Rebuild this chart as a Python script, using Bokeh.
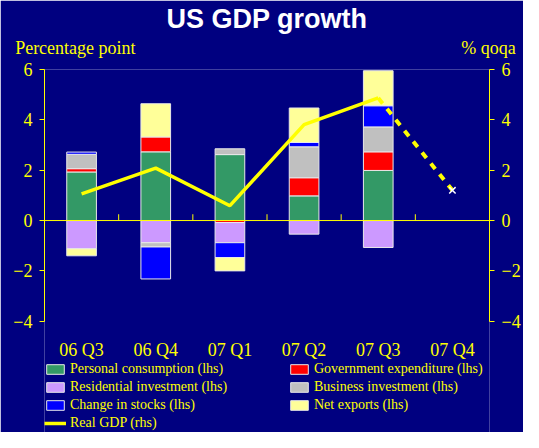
import numpy as np
from bokeh.plotting import figure
from bokeh.models import (Range1d, LinearAxis, FixedTicker, Span, Legend,
                          LegendItem, ColumnDataSource, Title)
from bokeh.core.properties import value
from bokeh.embed import file_html
from bokeh.resources import INLINE

# ---------------- data ----------------
quarters = ["06 Q3", "06 Q4", "07 Q1", "07 Q2", "07 Q3", "07 Q4"]
bar_quarters = quarters[:5]
personal = [1.93, 2.73, 2.62, 0.98, 1.99]
government = [0.13, 0.59, -0.08, 0.72, 0.74]
residential = [-1.12, -0.88, -0.80, -0.54, -1.07]
business = [0.57, -0.17, 0.23, 1.23, 0.99]
stocks = [0.09, -1.27, -0.59, 0.17, 0.84]
net_exports = [-0.28, 1.32, -0.53, 1.37, 1.39]
real_gdp = [1.06, 2.08, 0.59, 3.81, 4.87]
gdp_forecast_quarters = ["07 Q3", "07 Q4"]
gdp_forecast = [4.87, 1.20]
yticks = [-4, -2, 0, 2, 4, 6]

series = [
    ("Personal consumption (lhs)", personal, "#339966"),
    ("Government expenditure (lhs)", government, "#FF0000"),
    ("Residential investment (lhs)", residential, "#CC99FF"),
    ("Business investment (lhs)", business, "#C0C0C0"),
    ("Change in stocks (lhs)", stocks, "#0000FF"),
    ("Net exports (lhs)", net_exports, "#FFFF99"),
]

NAVY = "#000080"
YEL = "#FFFF00"
SERIF = "Liberation Serif"

W, H = 523, 432
BL, BR = 44, 32
FRAME_W = W - BL - BR
Y_LO, Y_HI = -4, 6          # visible value axis
Y_BOTTOM = -8.42            # frame extends below the axis to hold labels & legend
LABEL_Y = -5.15


def xpos(qs):
    return [quarters.index(q) + 0.5 for q in qs]


p = figure(width=W, height=H, output_backend="svg", toolbar_location=None,
           x_range=Range1d(0, len(quarters)), y_range=Range1d(Y_BOTTOM, Y_HI),
           x_axis_location=None,
           min_border_left=BL, min_border_right=BR, min_border_top=0,
           min_border_bottom=0, background_fill_color=NAVY,
           border_fill_color=NAVY, outline_line_color=None)
p.xgrid.visible = False
p.ygrid.visible = False
p.extra_y_ranges = {"rhs": Range1d(Y_BOTTOM, Y_HI)}
p.extra_x_ranges = {"px": Range1d(0, FRAME_W)}

# title
p.title = Title(text="US GDP growth", align="center", text_color="white",
                text_font="Liberation Sans", text_font_style="bold",
                text_font_size="27px", standoff=2, offset=10)


def style_y(ax):
    ax.ticker = FixedTicker(ticks=yticks)
    ax.bounds = (Y_LO, Y_HI)
    ax.axis_line_color = YEL
    ax.major_tick_line_color = YEL
    ax.major_tick_out = 5
    ax.major_tick_in = 0
    ax.minor_tick_line_color = None
    ax.major_label_text_color = YEL
    ax.major_label_text_font = SERIF
    ax.major_label_text_font_size = "18px"
    ax.major_label_standoff = 7


style_y(p.yaxis[0])
right = LinearAxis(y_range_name="rhs")
style_y(right)
p.add_layout(right, "right")

# axis unit captions, as labels of an axis above the frame
unit_pos = [31, FRAME_W - 1]
unit_text = ["Percentage point", "% qoqa"]
top_ax = LinearAxis(x_range_name="px", ticker=FixedTicker(ticks=unit_pos),
                    major_label_overrides={x: t for x, t in zip(unit_pos, unit_text)},
                    axis_line_color=None, major_tick_line_color=None,
                    minor_tick_line_color=None, major_tick_out=0, major_tick_in=0,
                    major_label_standoff=12, major_label_text_color=YEL,
                    major_label_text_font=SERIF, major_label_text_font_size="18px")
p.add_layout(top_ax, "above")

# quarter labels under the value axis
p.text(x=xpos(quarters), y=[LABEL_Y] * len(quarters), text=quarters,
       text_align="center", text_baseline="middle", text_color=YEL,
       text_font=value(SERIF), text_font_size="18px")

# zero line and boundary ticks
p.add_layout(Span(location=0, dimension="width", line_color=YEL, line_width=1))
bounds = list(range(1, len(quarters)))
p.segment(x0=bounds, x1=bounds, y0=[0] * len(bounds), y1=[0.25] * len(bounds),
          line_color=YEL, line_width=1)

# stacked bars (positive and negative parts stacked separately)
xs = xpos(bar_quarters)
pos_base = np.zeros(len(xs))
neg_base = np.zeros(len(xs))
renderers = {}
for name, vals, color in series:
    v = np.array(vals, dtype=float)
    bottom = np.where(v >= 0, pos_base, neg_base + v)
    top = np.where(v >= 0, pos_base + v, neg_base)
    pos_base = pos_base + np.clip(v, 0, None)
    neg_base = neg_base + np.clip(v, None, 0)
    src = ColumnDataSource(dict(x=xs, bottom=bottom, top=top))
    r = p.vbar(x="x", width=0.4, bottom="bottom", top="top", source=src,
               fill_color=color, line_color="#E8E8E8", line_width=1)
    renderers[name] = r

# real GDP line
gdp_r = p.line(xs, real_gdp, y_range_name="rhs", line_color=YEL, line_width=3.5)
p.line(xpos(gdp_forecast_quarters), gdp_forecast, y_range_name="rhs",
       line_color=YEL, line_width=4, line_dash="7 7")
p.scatter(xpos(gdp_forecast_quarters[-1:]), gdp_forecast[-1:], y_range_name="rhs",
          marker="x", size=9, line_color="white", line_width=1.5)

# legend
order = ["Personal consumption (lhs)", "Government expenditure (lhs)",
         "Residential investment (lhs)", "Business investment (lhs)",
         "Change in stocks (lhs)", "Net exports (lhs)"]
items = [LegendItem(label=n, renderers=[renderers[n]]) for n in order]
items.append(LegendItem(label="Real GDP (rhs)", renderers=[gdp_r]))
legend = Legend(items=items, ncols=2, orientation="horizontal", location=(0, 1),
                background_fill_alpha=0, border_line_color=None,
                padding=0, margin=0, spacing=1,
                glyph_width=22, glyph_height=12, label_height=17,
                label_standoff=4, label_width=217,
                label_text_color=YEL, label_text_font=SERIF,
                label_text_font_size="14px")
p.add_layout(legend, "center")

open("out.html", "w").write(file_html(p, INLINE))
